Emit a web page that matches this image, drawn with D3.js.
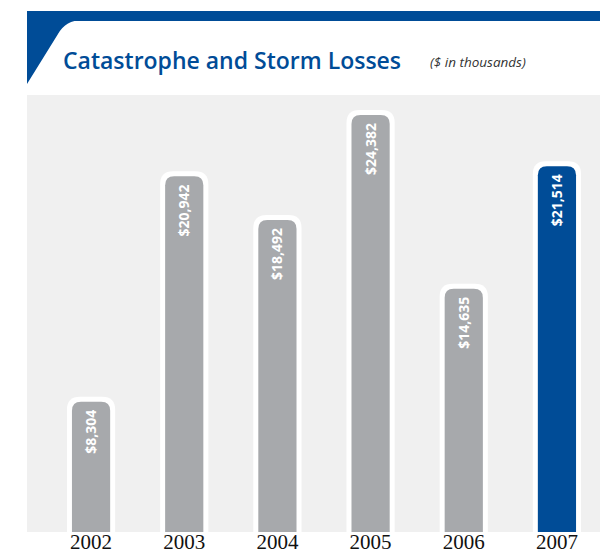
<!DOCTYPE html>
<html>
<head>
<meta charset="utf-8">
<script src="https://cdn.jsdelivr.net/npm/d3@7"></script>
<style>
  html, body { margin: 0; padding: 0; background: #fff; }
  svg { display: block; }
</style>
</head>
<body>
<svg id="chart" width="600" height="554"></svg>
<script>
// Catastrophe and storm losses by year ($ in thousands)
const years = ["2002", "2003", "2004", "2005", "2006", "2007"];
const losses = [8304, 20942, 18492, 24382, 14635, 21514];
const highlightYear = "2007";

const BLUE = "#004C97";
const GREY_BAR = "#A7A9AC";
const PANEL = "#F0F0F0";

const svg = d3.select("#chart");
const W = 600, H = 554;

// Header: blue band across the top with a slanted wedge on the left
svg.append("rect").attr("x", 27).attr("y", 11).attr("width", W - 27).attr("height", 10).attr("fill", BLUE);
svg.append("path")
  .attr("d", "M27,20 L82,20 Q66,20 58,34 L27,84 Z")
  .attr("fill", BLUE);

svg.append("text")
  .attr("x", 63).attr("y", 69)
  .attr("font-family", "'Open Sans', sans-serif")
  .attr("font-weight", 600)
  .attr("font-size", 23)
  .attr("fill", BLUE)
  .text("Catastrophe and Storm Losses");

svg.append("text")
  .attr("x", 430).attr("y", 67)
  .attr("font-family", "'Open Sans', sans-serif")
  .attr("font-style", "italic")
  .attr("font-size", 13.5)
  .attr("fill", "#333")
  .text("($ in thousands)");

// Plot panel
const panelTop = 95, panelBottom = 532;
svg.append("rect")
  .attr("x", 27).attr("y", panelTop)
  .attr("width", W - 27).attr("height", panelBottom - panelTop)
  .attr("fill", PANEL);

const x = d3.scaleBand().domain(years).range([44, 604]).paddingInner(0.59).paddingOuter(0.3);
const y = d3.scaleLinear().domain([1000, 25000]).range([panelBottom, 104]);

const bw = x.bandwidth();
const border = 5;

function topRounded(x0, y0, w, y1, r) {
  return `M${x0},${y1} L${x0},${y0 + r} Q${x0},${y0} ${x0 + r},${y0} L${x0 + w - r},${y0} Q${x0 + w},${y0} ${x0 + w},${y0 + r} L${x0 + w},${y1} Z`;
}

const data = years.map((yr, i) => ({ year: yr, value: losses[i] }));

const g = svg.append("g");
const bars = g.selectAll("g.bar").data(data).join("g").attr("class", "bar");

// white outline
bars.append("path")
  .attr("d", d => topRounded(x(d.year) - border, y(d.value) - border, bw + 2 * border, panelBottom, 13))
  .attr("fill", "#fff");

// bar
bars.append("path")
  .attr("d", d => topRounded(x(d.year), y(d.value), bw, panelBottom, 9))
  .attr("fill", d => d.year === highlightYear ? BLUE : GREY_BAR);

// value labels, rotated, reading upward
bars.append("text")
  .attr("transform", d => `translate(${x(d.year) + bw / 2 + 5},${y(d.value) + 8}) rotate(-90)`)
  .attr("text-anchor", "end")
  .attr("font-family", "'Open Sans', sans-serif")
  .attr("font-weight", 700)
  .attr("font-size", 14)
  .attr("fill", "#fff")
  .text(d => "$" + d3.format(",")(d.value));

// year axis labels
const axis = d3.axisBottom(x).tickSize(0).tickPadding(0);
const ax = svg.append("g").attr("transform", `translate(0,${panelBottom})`).call(axis);
ax.select(".domain").remove();
ax.selectAll("text")
  .attr("y", 17)
  .attr("dy", 0)
  .attr("font-family", "'Liberation Serif', 'Times New Roman', serif")
  .attr("font-size", 21)
  .attr("fill", "#111");
</script>
</body>
</html>
